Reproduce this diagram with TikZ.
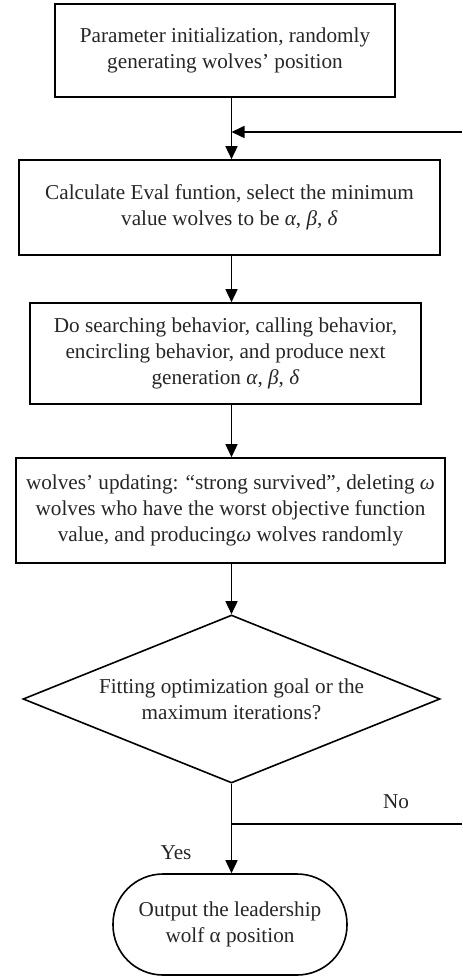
\documentclass[tikz,border=0pt]{standalone}
\usepackage{fontspec}
\setmainfont{Liberation Serif}
\usetikzlibrary{arrows.meta, shapes.geometric}

\begin{document}
\begin{tikzpicture}[x=0.5pt, y=-0.5pt, line width=0.8pt,
        every node/.style={font=\fontsize{10.6}{13}\selectfont, text=black!85},
        box/.style={draw, align=center, inner sep=0pt},
        >={Triangle[length=6.5pt, width=6pt]}]
        \useasboundingbox (0,0) rectangle (462,977);

        \node[box, minimum width=170pt, minimum height=46.5pt] (b1) at (225, 50.5)
            {Parameter initialization, randomly\\generating wolves' position};
        \node[box, minimum width=210.5pt, minimum height=47.5pt] (b2) at (229.5, 207.5)
            {Calculate Eval funtion, select the minimum\\value wolves to be \textit{α}, \textit{β}, \textit{δ}};
        \node[box, minimum width=195.5pt, minimum height=50.5pt] (b3) at (225.5, 353.5)
            {Do searching behavior, calling behavior,\\encircling behavior, and produce next\\generation \textit{α}, \textit{β}, \textit{δ}};
        \node[box, minimum width=214.5pt, minimum height=52.5pt] (b4) at (230.5, 510.5)
            {wolves' updating: ``strong survived'', deleting \textit{ω}\\wolves who have the worst objective function\\value, and producing\textit{ω} wolves randomly};
        \node[box, diamond, aspect=2.48, minimum width=208.5pt, minimum height=84pt] (d) at (231.5, 699)
            {Fitting optimization goal or the\\maximum iterations?};
        \node[box, rounded corners=25pt, minimum width=117pt, minimum height=50.5pt] (t) at (230, 924.5)
            {Output the leadership\\wolf α position};

        \node (no) at (396, 802) {No};
        \node (yes) at (176, 853) {Yes};

        \coordinate (back) at (462, 132);
        \coordinate (nobranch) at (462, 824);

        \draw [->] (b1.south -| d.north) -- (b2.north -| d.north);
        \draw [->] (back) -- (back -| d.north);
        \draw [->] (b2.south -| d.north) -- (b3.north -| d.north);
        \draw [->] (b3.south -| d.north) -- (b4.north -| d.north);
        \draw [->] (b4.south -| d.north) -- (d.north);
        \draw [->] (d.south) -- (t.north -| d.south);
        \draw (nobranch) -- (nobranch -| d.south);
    \end{tikzpicture}
\end{document}
